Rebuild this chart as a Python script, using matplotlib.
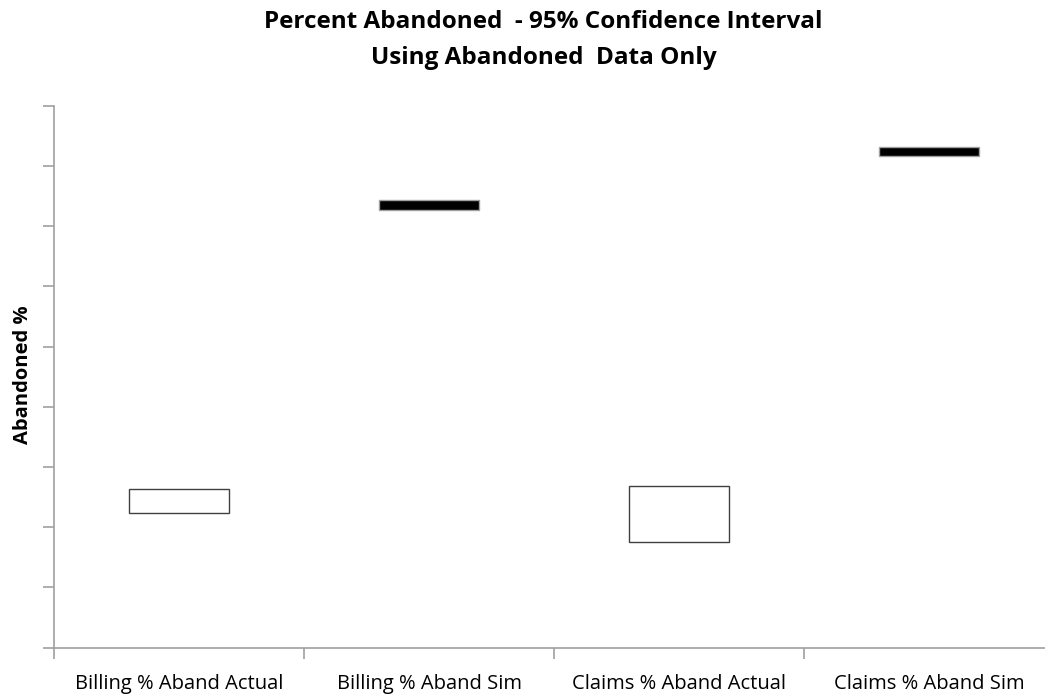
import matplotlib.pyplot as plt

# Intervalos de confiança (95%) do percentual abandonado
categorias = ['Billing % Aband Actual', 'Billing % Aband Sim',
              'Claims % Aband Actual', 'Claims % Aband Sim']
limite_inferior = [11.2, 36.37, 8.8, 40.8]
limite_superior = [13.15, 37.17, 13.45, 41.6]
preenchimento = ['white', 'black', 'white', 'black']

plt.rcParams['font.family'] = ['Open Sans', 'DejaVu Sans']

fig = plt.figure(figsize=(10.45, 6.96), dpi=100)
ax = fig.add_axes([0.0517, 0.0694, 0.957, 0.7787])

posicoes = range(len(categorias))
alturas = [s - i for i, s in zip(limite_inferior, limite_superior)]
bordas = ['#404040' if c == 'white' else '#a0a0a0' for c in preenchimento]
ax.bar(posicoes, alturas, bottom=limite_inferior, width=0.4,
       color=preenchimento, edgecolor=bordas, linewidth=1.0)

ax.set_xlim(-0.5, 3.5)
ax.set_ylim(0, 45)
ax.set_yticks(range(0, 46, 5))
ax.set_yticklabels([])
ax.set_xticks([-0.5, 0.5, 1.5, 2.5, 3.5])
ax.set_xticklabels([])
ax.set_xticks(list(posicoes), categorias, minor=True)
ax.tick_params(axis='x', which='minor', length=0, pad=19, labelsize=14.5)
ax.tick_params(axis='both', which='major', length=8, width=1.2, color='#a0a0a0')

for lado in ['top', 'right']:
    ax.spines[lado].set_visible(False)
for lado in ['left', 'bottom']:
    ax.spines[lado].set_color('#a0a0a0')
    ax.spines[lado].set_linewidth(1.2)

ax.set_ylabel('Abandoned %', fontweight='bold', fontsize=14.5)
ax.yaxis.set_label_coords(-0.021, 0.503)
fig.text(0.52, 0.9425, 'Percent Abandoned  - 95% Confidence Interval\nUsing Abandoned  Data Only',
         ha='center', va='center', fontsize=17.5, fontweight='bold', linespacing=1.64)

fig.savefig('out.png', dpi=100)
